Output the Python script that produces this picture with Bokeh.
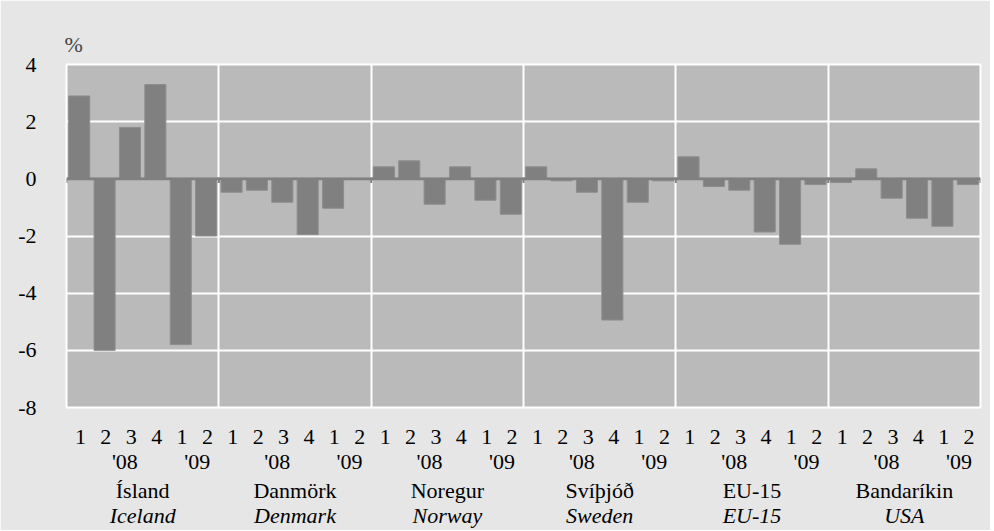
from bokeh.plotting import figure
from bokeh.models import Range1d, FixedTicker, LinearAxis, Span, ColumnDataSource
from bokeh.embed import file_html
from bokeh.resources import INLINE

countries_is = ["Ísland", "Danmörk", "Noregur", "Svíþjóð", "EU-15", "Bandaríkin"]
countries_en = ["Iceland", "Denmark", "Norway", "Sweden", "EU-15", "USA"]
quarters = ["1", "2", "3", "4", "1", "2"]
years = ["'08", "'09"]
iceland = [2.9, -6.0, 1.8, 3.3, -5.8, -2.0]
denmark = [-0.47, -0.4, -0.82, -1.95, -1.03, 0.0]
norway = [0.42, 0.63, -0.89, 0.42, -0.75, -1.24]
sweden = [0.42, -0.07, -0.47, -4.94, -0.82, -0.07]
eu15 = [0.77, -0.27, -0.4, -1.86, -2.29, -0.2]
usa = [-0.13, 0.35, -0.68, -1.38, -1.66, -0.2]
y_ticks = [-8, -6, -4, -2, 0, 2, 4]

series = [iceland, denmark, norway, sweden, eu15, usa]
nq = len(quarters)
ng = len(series)

xs, tops = [], []
for g, vals in enumerate(series):
    for i, v in enumerate(vals):
        xs.append(g * nq + i + 0.5)
        tops.append(v)
src = ColumnDataSource(dict(x=xs, top=tops))

FONT = "Liberation Serif"
FS = "22px"

p = figure(width=990, height=530, output_backend="svg", toolbar_location=None,
           x_range=Range1d(0, ng * nq), y_range=Range1d(min(y_ticks), max(y_ticks)),
           min_border_left=66, min_border_right=10, min_border_top=64, min_border_bottom=122,
           title="%")
p.border_fill_color = "#e6e6e6"
p.background_fill_color = "#bababa"
p.outline_line_color = "white"
p.outline_line_width = 2

p.title.text_font = FONT
p.title.text_font_size = FS
p.title.text_font_style = "normal"
p.title.align = "left"
p.title.offset = -2
p.title.standoff = 15

# grids
p.ygrid.ticker = FixedTicker(ticks=y_ticks)
p.ygrid.grid_line_color = "white"
p.ygrid.grid_line_width = 2
p.xgrid.ticker = FixedTicker(ticks=[g * nq for g in range(ng + 1)])
p.xgrid.grid_line_color = "white"
p.xgrid.grid_line_width = 2

p.vbar(x="x", top="top", bottom=0, width=0.83, source=src,
       fill_color="#808080", line_color="#8e8e8e", line_width=1)

p.add_layout(Span(location=0, dimension="width", line_color="#808080", line_width=3))
bx = [g * nq for g in range(ng + 1)]
p.segment(x0=bx, x1=bx, y0=[0] * len(bx), y1=[-0.15] * len(bx), line_color="#808080", line_width=2)

# y axis
ya = p.yaxis[0]
ya.ticker = FixedTicker(ticks=y_ticks)
ya.major_label_overrides = {t: str(t) for t in y_ticks}
ya.axis_line_color = None
ya.major_tick_line_color = None
ya.minor_tick_line_color = None
ya.major_label_standoff = 24
ya.major_label_text_font = FONT
ya.major_label_text_font_size = FS
ya.major_label_text_color = "black"

def style_axis(ax, standoff, italic=False):
    ax.axis_line_color = None
    ax.major_tick_line_color = None
    ax.minor_tick_line_color = None
    ax.major_tick_out = 0
    ax.major_tick_in = 0
    ax.major_label_standoff = standoff
    ax.major_label_text_font = FONT
    ax.major_label_text_font_size = FS
    ax.major_label_text_color = "black"
    if italic:
        ax.major_label_text_font_style = "italic"

# quarter row
xa = p.xaxis[0]
qt = {}
for g in range(ng):
    for i, q in enumerate(quarters):
        qt[g * nq + i + 0.55] = q
xa.ticker = FixedTicker(ticks=list(qt.keys()))
xa.major_label_overrides = qt
style_axis(xa, 22)

# year row
yt = {}
for g in range(ng):
    yt[g * nq + 2.3] = years[0]
    yt[g * nq + 5.15] = years[1]
ax2 = LinearAxis(ticker=FixedTicker(ticks=list(yt.keys())), major_label_overrides=yt)
style_axis(ax2, 2)
p.add_layout(ax2, "below")

# country rows
ct = {g * nq + nq / 2: n for g, n in enumerate(countries_is)}
ax3 = LinearAxis(ticker=FixedTicker(ticks=list(ct.keys())), major_label_overrides=ct)
style_axis(ax3, 1)
p.add_layout(ax3, "below")

et = {g * nq + nq / 2: n for g, n in enumerate(countries_en)}
ax4 = LinearAxis(ticker=FixedTicker(ticks=list(et.keys())), major_label_overrides=et)
style_axis(ax4, -3, italic=True)
p.add_layout(ax4, "below")

open("out.html", "w").write(file_html(p, INLINE))
